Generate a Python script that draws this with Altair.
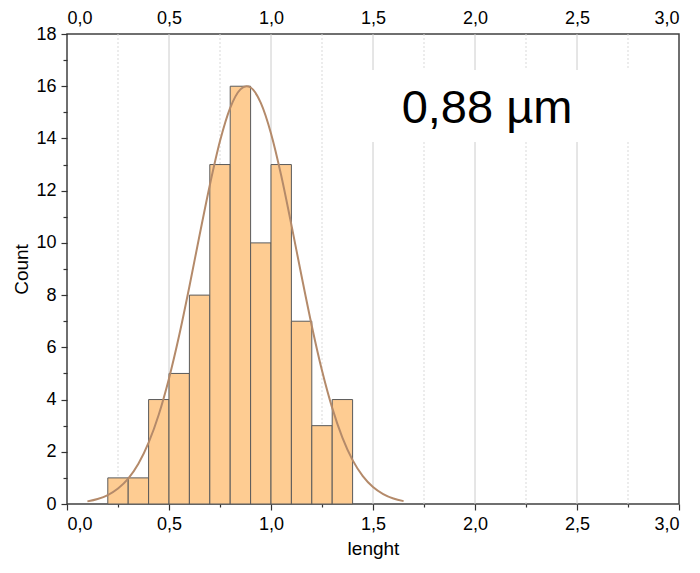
import altair as alt
import pandas as pd

# histogram bins (lenght, µm) and counts
bin_start = [0.2, 0.3, 0.4, 0.5, 0.6, 0.7, 0.8, 0.9, 1.0, 1.1, 1.2, 1.3]
bin_end = [0.3, 0.4, 0.5, 0.6, 0.7, 0.8, 0.9, 1.0, 1.1, 1.2, 1.3, 1.4]
counts = [1, 1, 4, 5, 8, 13, 16, 10, 13, 7, 3, 4]

# fitted curve
curve_x = [0.10, 0.15, 0.20, 0.25, 0.30, 0.35, 0.40, 0.45, 0.50, 0.55, 0.60, 0.65,
           0.70, 0.75, 0.80, 0.85, 0.88, 0.90, 0.95, 1.00, 1.05, 1.10, 1.15, 1.20,
           1.25, 1.30, 1.35, 1.40, 1.45, 1.50, 1.55, 1.60, 1.65]
curve_y = [0.10, 0.19, 0.34, 0.59, 0.97, 1.54, 2.35, 3.43, 4.81, 6.46, 8.33, 10.30,
           12.21, 13.90, 15.17, 15.88, 16.00, 15.95, 15.36, 14.19, 12.58, 10.69, 8.72, 6.82,
           5.11, 3.68, 2.54, 1.68, 1.07, 0.65, 0.38, 0.21, 0.11]

x_major = [0.0, 0.5, 1.0, 1.5, 2.0, 2.5, 3.0]
x_minor = [0.25, 0.75, 1.25, 1.75, 2.25, 2.75]
grid_major = [0.5, 1.0, 1.5, 2.0, 2.5]
y_major = [0, 2, 4, 6, 8, 10, 12, 14, 16, 18]
y_minor = [1, 3, 5, 7, 9, 11, 13, 15, 17]
label_text = "0,88 µm"

bars_df = pd.DataFrame({"start": bin_start, "end": bin_end, "count": counts})
curve_df = pd.DataFrame({"x": curve_x, "y": curve_y})
gmaj_df = pd.DataFrame({"x": grid_major})
gmin_df = pd.DataFrame({"x": x_minor})

W, H = 612, 470
FONT = "Liberation Sans"
comma = "replace(format(datum.value, '.1f'), '.', ',')"
xscale = alt.Scale(domain=[0, 3], nice=False, zero=False)
yscale = alt.Scale(domain=[0, 18], nice=False)

grid_major_layer = alt.Chart(gmaj_df).mark_rule(color="#cccccc", strokeWidth=1).encode(
    x=alt.X("x:Q", scale=xscale, axis=None)
)

grid_minor_layer = alt.Chart(gmin_df).mark_rule(
    color="#d9d9d9", strokeWidth=1, strokeDash=[2, 2]
).encode(
    x=alt.X("x:Q", scale=xscale, axis=alt.Axis(
        orient="bottom", values=x_minor, labels=False, domain=False, grid=False,
        ticks=True, tickSize=3, tickColor="#333333", tickWidth=1.2, title=None))
)

box = alt.Chart(pd.DataFrame({"t": [label_text]})).mark_rect(color="white").encode(
    x=alt.value(288), x2=alt.value(W - 1), y=alt.value(36), y2=alt.value(108)
)

bars = alt.Chart(bars_df).mark_rect(
    fill="#FECC92", stroke="#5a5a5a", strokeWidth=1
).encode(
    x=alt.X("start:Q", scale=xscale, axis=alt.Axis(
        orient="bottom", values=x_major, labelExpr=comma, domain=False, grid=False,
        tickSize=6, tickColor="#333333", tickWidth=1.2, labelPadding=5,
        title="lenght", titlePadding=6)),
    x2="end:Q",
    y=alt.Y("count:Q", scale=yscale, axis=alt.Axis(
        orient="left", values=y_major, format="d", domain=False, grid=False,
        tickSize=6, tickColor="#333333", tickWidth=1.2, labelPadding=5,
        title="Count", titlePadding=4)),
    y2=alt.datum(0),
)

curve = alt.Chart(curve_df).mark_line(
    color="#B48A6A", strokeWidth=2, interpolate="monotone"
).encode(
    x=alt.X("x:Q", scale=xscale, axis=alt.Axis(
        orient="top", values=x_major, labelExpr=comma, domain=False, grid=False,
        ticks=False, labelPadding=7, title=None)),
    y=alt.Y("y:Q", scale=yscale, axis=alt.Axis(
        orient="left", values=y_minor, labels=False, domain=False, grid=False,
        tickSize=4, tickColor="#333333", tickWidth=1.2, title=None)),
)

text = alt.Chart(pd.DataFrame({"t": [label_text]})).mark_text(
    font=FONT, fontSize=47, color="black", align="center", baseline="alphabetic"
).encode(
    x=alt.value(420), y=alt.value(89), text="t:N"
)

chart = alt.layer(
    grid_major_layer, grid_minor_layer, box, bars, curve, text
).resolve_axis(x="independent", y="independent").properties(
    width=W, height=H,
    background="white",
    autosize=alt.AutoSizeParams(type="none"),
    padding={"left": 59, "top": 26, "right": 13, "bottom": 61},
).configure_view(
    stroke="#404040", strokeWidth=1.5
).configure_axis(
    labelFont=FONT, labelFontSize=18, labelColor="black",
    titleFont=FONT, titleFontSize=19, titleColor="black", titleFontWeight="normal",
)

chart.save("out.html", embed_options={"renderer": "svg", "actions": False})
